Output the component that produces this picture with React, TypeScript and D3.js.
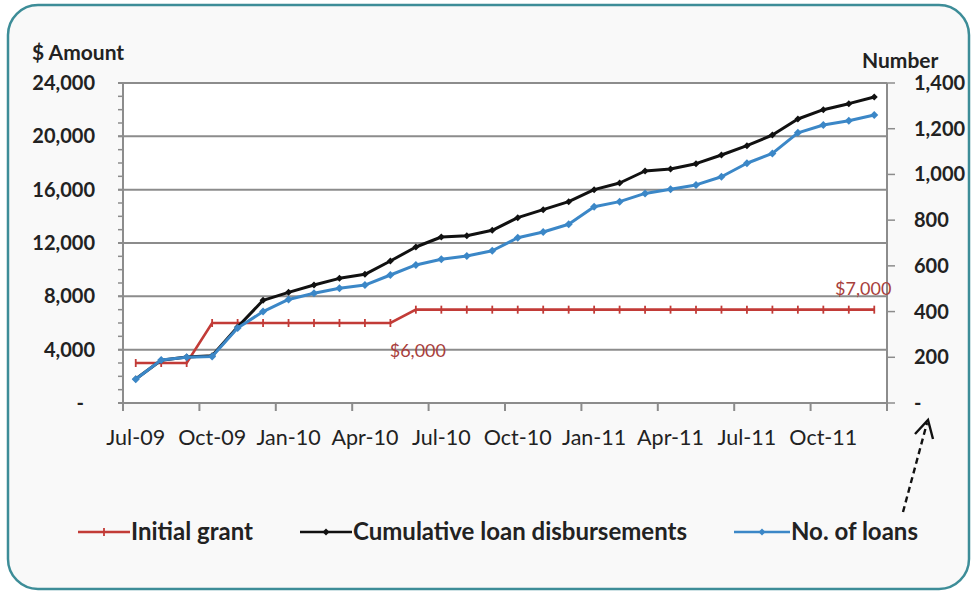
import React from "react";
import * as d3 from "d3";

// Monthly categories, Jul-09 through Dec-11
const months: string[] = [
  "Jul-09", "Aug-09", "Sep-09", "Oct-09", "Nov-09", "Dec-09",
  "Jan-10", "Feb-10", "Mar-10", "Apr-10", "May-10", "Jun-10",
  "Jul-10", "Aug-10", "Sep-10", "Oct-10", "Nov-10", "Dec-10",
  "Jan-11", "Feb-11", "Mar-11", "Apr-11", "May-11", "Jun-11",
  "Jul-11", "Aug-11", "Sep-11", "Oct-11", "Nov-11", "Dec-11",
];

// Initial grant per loan ($, left axis)
const initialGrant: number[] = [
  3000, 3000, 3000, 6000, 6000, 6000, 6000, 6000, 6000, 6000, 6000,
  7000, 7000, 7000, 7000, 7000, 7000, 7000, 7000, 7000, 7000, 7000,
  7000, 7000, 7000, 7000, 7000, 7000, 7000, 7000,
];

// Cumulative loan disbursements ($, left axis)
const disbursements: number[] = [
  1800, 3200, 3450, 3550, 5700, 7700, 8300, 8850, 9350, 9650,
  10650, 11700, 12450, 12550, 12950, 13900, 14500, 15100, 16000, 16500,
  17400, 17550, 17950, 18600, 19300, 20100, 21300, 22000, 22450, 22950,
];

// Number of loans (right axis)
const loanCount: number[] = [
  104, 188, 200, 203, 328, 400, 453, 480, 502, 516,
  560, 604, 629, 643, 666, 723, 748, 782, 859, 881,
  917, 935, 954, 990, 1049, 1092, 1182, 1216, 1235, 1260,
];

const leftTicks: number[] = [0, 4000, 8000, 12000, 16000, 20000, 24000];
const leftMinorTicks: number[] = d3.range(0, 24001, 1000);
const rightTicks: number[] = [0, 200, 400, 600, 800, 1000, 1200, 1400];
const xLabelMonths: string[] = [
  "Jul-09", "Oct-09", "Jan-10", "Apr-10", "Jul-10",
  "Oct-10", "Jan-11", "Apr-11", "Jul-11", "Oct-11",
];

const seriesNames: string[] = ["Initial grant", "Cumulative loan disbursements", "No. of loans"];

const W = 971;
const H = 592;
const FONT = "Lato, 'Open Sans', sans-serif";
const RED = "#c23b37";
const BLACK = "#111111";
const BLUE = "#3b87c7";
const GRID = "#8c8c8c";

const fmtLeft = (v: number) => (v === 0 ? "-" : d3.format(",")(v));
const fmtRight = (v: number) => (v === 0 ? "-" : d3.format(",")(v));

export default function App() {
  const plot = { left: 123, right: 887, top: 83, bottom: 403 };

  const x = d3.scaleBand<string>().domain(months).range([plot.left, plot.right]).paddingInner(0).paddingOuter(0);
  const cx = (m: string) => (x(m) as number) + x.bandwidth() / 2;
  const yL = d3.scaleLinear().domain([0, 24000]).range([plot.bottom, plot.top]);
  const yR = d3.scaleLinear().domain([0, 1400]).range([plot.bottom, plot.top]);

  const lineL = d3.line<number>().x((_, i) => cx(months[i])).y((d) => yL(d));
  const lineR = d3.line<number>().x((_, i) => cx(months[i])).y((d) => yR(d));

  // category boundaries every 3 months (quarter ticks)
  const xTickPositions = d3.range(0, months.length + 1, 3).map((i) =>
    i < months.length ? (x(months[i]) as number) : plot.right
  );

  const diamond = (px: number, py: number, r: number) =>
    `M${px},${py - r}L${px + r},${py}L${px},${py + r}L${px - r},${py}Z`;

  // annotation anchors
  const grant6Idx = 11;
  const grant7Idx = months.length - 1;

  // legend layout
  const legendY = 532;
  const legendItems = [
    { name: seriesNames[0], color: RED, x0: 78, x1: 130, marker: "tick" },
    { name: seriesNames[1], color: BLACK, x0: 300, x1: 352, marker: "diamond" },
    { name: seriesNames[2], color: BLUE, x0: 734, x1: 790, marker: "diamond" },
  ];

  return (
    <svg
      width={W}
      height={H}
      viewBox={`0 0 ${W} ${H}`}
      style={{ position: "absolute", left: 0, top: 0, background: "#ffffff" }}
      fontFamily={FONT}
    >
      {/* frame */}
      <rect x={8} y={5} width={961} height={584} rx={30} ry={30} fill="#f9f9f9" stroke="#3d8d98" strokeWidth={2.5} />

      {/* plot area */}
      <rect x={plot.left} y={plot.top} width={plot.right - plot.left} height={plot.bottom - plot.top} fill="#ffffff" />

      {/* horizontal gridlines */}
      {leftTicks.map((t) => (
        <line key={`g${t}`} x1={plot.left - 5} x2={plot.right} y1={yL(t)} y2={yL(t)} stroke={GRID} strokeWidth={2} />
      ))}

      {/* left axis */}
      <line x1={plot.left} x2={plot.left} y1={plot.top} y2={plot.bottom + 7} stroke={GRID} strokeWidth={2} />
      {leftMinorTicks.map((t) => (
        <line key={`lm${t}`} x1={plot.left - 5} x2={plot.left} y1={yL(t)} y2={yL(t)} stroke={GRID} strokeWidth={1.5} />
      ))}
      {leftTicks.map((t) => (
        <text
          key={`lt${t}`}
          x={t === 0 ? 84 : 95}
          y={yL(t)}
          dy="0.35em"
          textAnchor="end"
          fontSize={20}
          fontWeight={700}
          fill="#222"
        >
          {fmtLeft(t)}
        </text>
      ))}
      <text x={32} y={60} fontSize={21} fontWeight={700} fill="#222">$ Amount</text>

      {/* right axis */}
      <line x1={plot.right} x2={plot.right} y1={plot.top} y2={plot.bottom + 7} stroke={GRID} strokeWidth={2} />
      {rightTicks.map((t) => (
        <line key={`rt${t}`} x1={plot.right} x2={plot.right + 8} y1={yR(t)} y2={yR(t)} stroke={GRID} strokeWidth={1.5} />
      ))}
      {rightTicks.map((t) => (
        <text
          key={`rl${t}`}
          x={914}
          y={yR(t)}
          dy="0.35em"
          textAnchor="start"
          fontSize={20}
          fontWeight={700}
          fill="#222"
        >
          {fmtRight(t)}
        </text>
      ))}
      <text x={862} y={68} fontSize={21} fontWeight={700} fill="#222">Number</text>

      {/* x axis ticks and labels */}
      {xTickPositions.map((px, i) => (
        <line key={`xt${i}`} x1={px} x2={px} y1={plot.bottom} y2={plot.bottom + 8} stroke={GRID} strokeWidth={2} />
      ))}
      {xLabelMonths.map((m) => (
        <text key={`xl${m}`} x={cx(m)} y={445} textAnchor="middle" fontSize={21.5} fill="#222">
          {m}
        </text>
      ))}

      {/* Initial grant */}
      <path d={lineL(initialGrant) as string} fill="none" stroke={RED} strokeWidth={2.6} />
      {initialGrant.map((v, i) => (
        <line
          key={`rm${i}`}
          x1={cx(months[i])}
          x2={cx(months[i])}
          y1={yL(v) - 4}
          y2={yL(v) + 4}
          stroke={RED}
          strokeWidth={1.8}
        />
      ))}

      {/* Cumulative loan disbursements */}
      <path d={lineL(disbursements) as string} fill="none" stroke={BLACK} strokeWidth={3} strokeLinejoin="round" />
      {disbursements.map((v, i) => (
        <path key={`bm${i}`} d={diamond(cx(months[i]), yL(v), 3.5)} fill={BLACK} />
      ))}

      {/* Number of loans */}
      <path d={lineR(loanCount) as string} fill="none" stroke={BLUE} strokeWidth={3} strokeLinejoin="round" />
      {loanCount.map((v, i) => (
        <path key={`um${i}`} d={diamond(cx(months[i]), yR(v), 4)} fill={BLUE} />
      ))}

      {/* grant value annotations */}
      <text
        x={cx(months[grant6Idx]) + 2}
        y={yL(initialGrant[grant6Idx - 1]) + 28}
        dy="0.35em"
        textAnchor="middle"
        fontSize={18}
        fill="#a8403c"
      >
        {d3.format("$,")(initialGrant[grant6Idx - 1])}
      </text>
      <text
        x={cx(months[grant7Idx]) - 11}
        y={yL(initialGrant[grant7Idx]) - 21}
        dy="0.35em"
        textAnchor="middle"
        fontSize={18}
        fill="#a8403c"
      >
        {d3.format("$,")(initialGrant[grant7Idx])}
      </text>

      {/* legend */}
      {legendItems.map((it) => {
        const mid = (it.x0 + it.x1) / 2;
        return (
          <g key={it.name}>
            <line x1={it.x0} x2={it.x1} y1={legendY} y2={legendY} stroke={it.color} strokeWidth={2.6} />
            {it.marker === "tick" ? (
              <line x1={mid} x2={mid} y1={legendY - 4} y2={legendY + 4} stroke={it.color} strokeWidth={1.8} />
            ) : (
              <path d={diamond(mid, legendY, 3.5)} fill={it.color} />
            )}
            <text x={it.x1 + 1} y={legendY} dy="0.35em" fontSize={24} fontWeight={700} fill="#222">
              {it.name}
            </text>
          </g>
        );
      })}

      {/* pointer from legend to right axis */}
      <line x1={903} y1={512} x2={927} y2={423} stroke="#111" strokeWidth={2.4} strokeDasharray="6,4" />
      <path d="M915,434 L928,420 L933,439" fill="none" stroke="#111" strokeWidth={2.4} strokeLinejoin="miter" />
    </svg>
  );
}
